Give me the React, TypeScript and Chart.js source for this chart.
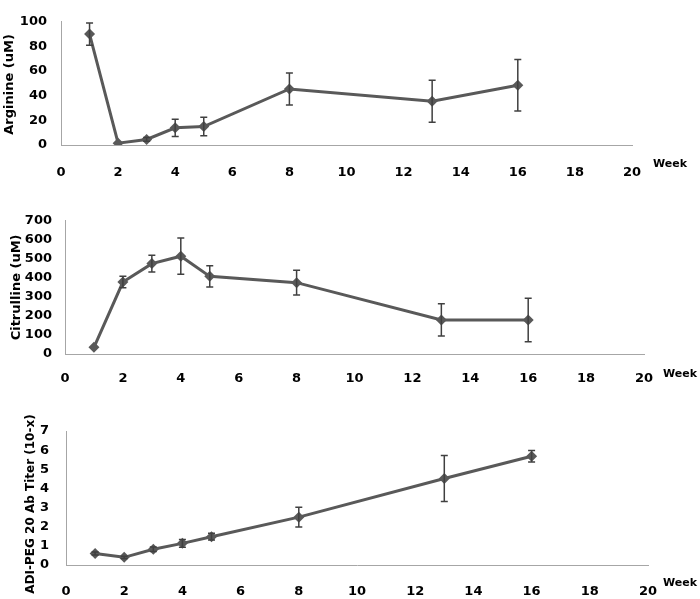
import React, { useEffect, useRef } from "react";
import { Chart, registerables } from "chart.js";

Chart.register(...registerables);

// ---- data ----
const weeks = [1, 2, 3, 4, 5, 8, 13, 16];
const xTickStep = 2;
const xMin = 0;
const xMax = 20;
const xUnitLabel = "Week";

const arginine = [90, 1.5, 4.5, 14, 15, 45.5, 35.5, 48.5];
const arginineErr = [9, 0, 1.5, 7, 7.5, 13, 17, 21];

const citrulline = [35, 378, 475, 514, 408, 375, 179, 179];
const citrullineErr = [0, 30, 44, 95, 56, 65, 85, 114];

const titer = [0.6, 0.4, 0.82, 1.13, 1.48, 2.5, 4.52, 5.68];
const titerErr = [0.08, 0.06, 0.12, 0.2, 0.18, 0.52, 1.2, 0.3];

const FONT = '"DejaVu Sans", Verdana, sans-serif';
const LINE = "#595959";
const ERR = "#404040";
const AXIS = "#a6a6a6";

type PanelProps = {
  top: number;
  height: number;
  values: number[];
  errors: number[];
  yMax: number;
  yStep: number;
  yTitle: string;
  titleSize: number;
  titleX: number;
  titleDy: number;
  area: { left: number; right: number; top: number; bottom: number };
  yTickPad: number;
  xTickPad: number;
  week: { dx: number; dy: number };
};

function Panel(p: PanelProps) {
  const ref = useRef<HTMLCanvasElement | null>(null);

  useEffect(() => {
    if (!ref.current) return;
    const errPlugin = {
      id: "errbars",
      afterDatasetsDraw(chart: any) {
        const ctx = chart.ctx;
        const xs = chart.scales.x;
        const ys = chart.scales.y;
        ctx.save();
        ctx.strokeStyle = ERR;
        ctx.lineWidth = 1.5;
        weeks.forEach((w, i) => {
          const e = p.errors[i];
          if (!e) return;
          const px = xs.getPixelForValue(w);
          const y1 = ys.getPixelForValue(p.values[i] + e);
          const y2 = ys.getPixelForValue(p.values[i] - e);
          ctx.beginPath();
          ctx.moveTo(px, y1);
          ctx.lineTo(px, y2);
          ctx.moveTo(px - 3.5, y1);
          ctx.lineTo(px + 3.5, y1);
          ctx.moveTo(px - 3.5, y2);
          ctx.lineTo(px + 3.5, y2);
          ctx.stroke();
        });
        ctx.restore();
      },
    };
    const textPlugin = {
      id: "texts",
      afterDraw(chart: any) {
        const ctx = chart.ctx;
        const a = chart.chartArea;
        ctx.save();
        ctx.font = `bold 11px ${FONT}`;
        ctx.fillStyle = "#000";
        ctx.textAlign = "left";
        ctx.textBaseline = "middle";
        ctx.fillText(xUnitLabel, a.right + p.week.dx, a.bottom + p.week.dy);
        ctx.restore();

        ctx.save();
        ctx.font = `bold ${p.titleSize}px ${FONT}`;
        ctx.fillStyle = "#000";
        ctx.textAlign = "center";
        ctx.textBaseline = "middle";
        ctx.translate(p.titleX, (a.top + a.bottom) / 2 + p.titleDy);
        ctx.rotate(-Math.PI / 2);
        ctx.fillText(p.yTitle, 0, 0);
        ctx.restore();
      },
    };

    const chart = new Chart(ref.current, {
      type: "line",
      data: {
        datasets: [
          {
            data: weeks.map((w, i) => ({ x: w, y: p.values[i] })),
            borderColor: LINE,
            backgroundColor: LINE,
            borderWidth: 3,
            pointStyle: "rectRot",
            pointRadius: 5.5,
            pointBackgroundColor: LINE,
            pointBorderColor: LINE,
            pointBorderWidth: 0,
            tension: 0,
            fill: false,
          },
        ],
      },
      options: {
        responsive: false,
        animation: false,
        events: [],
        layout: {
          padding: { top: p.area.top, right: 700 - p.area.right, bottom: 0, left: 0 },
        },
        plugins: { legend: { display: false }, tooltip: { enabled: false } },
        scales: {
          x: {
            type: "linear",
            min: xMin,
            max: xMax,
            ticks: {
              stepSize: xTickStep,
              autoSkip: false,
              maxRotation: 0,
              color: "#000",
              padding: p.xTickPad,
              font: { family: FONT, size: 13, weight: "bold" },
            },
            grid: { display: false, drawTicks: false },
            border: { display: true, color: AXIS, width: 1 },
            afterFit: (s: any) => {
              s.height = p.height - p.area.bottom;
            },
          },
          y: {
            type: "linear",
            min: 0,
            max: p.yMax,
            ticks: {
              stepSize: p.yStep,
              color: "#000",
              padding: p.yTickPad,
              font: { family: FONT, size: 13, weight: "bold" },
            },
            grid: { display: false, drawTicks: false },
            border: { display: true, color: AXIS, width: 1 },
            afterFit: (s: any) => {
              s.width = p.area.left;
            },
          },
        },
      },
      plugins: [errPlugin, textPlugin],
    } as any);
    return () => chart.destroy();
  }, []);

  return (
    <canvas
      ref={ref}
      width={700}
      height={p.height}
      style={{ position: "absolute", left: 0, top: p.top, width: 700, height: p.height }}
    />
  );
}

export default function App() {
  return (
    <div style={{ position: "absolute", left: 0, top: 0, width: 700, height: 599, background: "#fff" }}>
      <Panel
        top={0}
        height={200}
        values={arginine}
        errors={arginineErr}
        yMax={100}
        yStep={20}
        yTitle="Arginine (uM)"
        titleSize={13}
        titleX={10}
        titleDy={1}
        area={{ left: 61, right: 632, top: 9, bottom: 145 }}
        yTickPad={14}
        xTickPad={20}
        week={{ dx: 21, dy: 19 }}
      />
      <Panel
        top={200}
        height={200}
        values={citrulline}
        errors={citrullineErr}
        yMax={700}
        yStep={100}
        yTitle="Citrulline (uM)"
        titleSize={13}
        titleX={17}
        titleDy={0}
        area={{ left: 65, right: 644, top: 17, bottom: 154 }}
        yTickPad={13}
        xTickPad={17}
        week={{ dx: 19, dy: 20 }}
      />
      <Panel
        top={400}
        height={199}
        values={titer}
        errors={titerErr}
        yMax={7}
        yStep={1}
        yTitle="ADI-PEG 20 Ab Titer (10-x)"
        titleSize={12}
        titleX={31}
        titleDy={6}
        area={{ left: 66, right: 648, top: 31, bottom: 165 }}
        yTickPad={17}
        xTickPad={19}
        week={{ dx: 15, dy: 18 }}
      />
    </div>
  );
}
